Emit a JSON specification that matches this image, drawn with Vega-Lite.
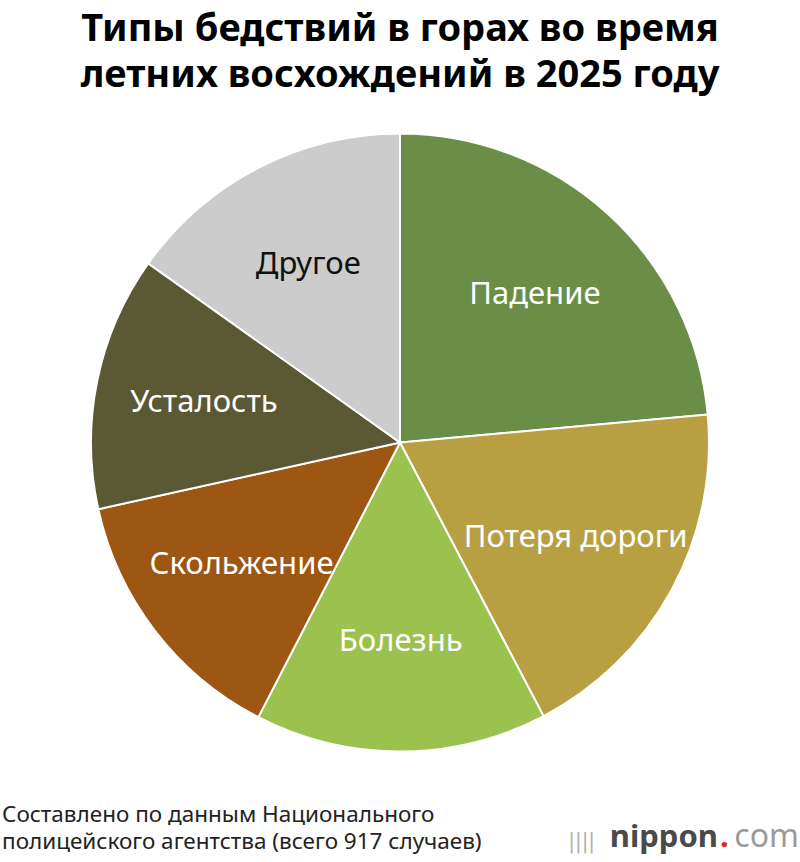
{
  "$schema": "https://vega.github.io/schema/vega-lite/v6.json",
  "width": 800,
  "height": 862,
  "autosize": {"type": "fit", "contains": "padding"},
  "padding": {"top": 11, "bottom": 0, "left": 0, "right": 0},
  "background": "white",
  "config": {"view": {"stroke": null}, "font": "Noto Sans"},
  "title": {
    "text": ["Типы бедствий в горах во время", "летних восхождений в 2025 году"],
    "fontSize": 38,
    "fontWeight": "bold",
    "font": "Noto Sans",
    "color": "#000000",
    "anchor": "middle",
    "lineHeight": 46,
    "offset": 5
  },
  "layer": [
    {
      "data": {"values": [
        {"type": "Падение", "count": 216, "idx": 1},
        {"type": "Потеря дороги", "count": 172, "idx": 2},
        {"type": "Болезнь", "count": 140, "idx": 3},
        {"type": "Скольжение", "count": 128, "idx": 4},
        {"type": "Усталость", "count": 122, "idx": 5},
        {"type": "Другое", "count": 139, "idx": 6}
      ]},
      "layer": [
        {
          "mark": {"type": "arc", "outerRadius": 309, "stroke": "white", "strokeWidth": 2, "y": {"expr": "height/2 - 38.5"}},
          "encoding": {
            "theta": {"field": "count", "type": "quantitative", "stack": true},
            "order": {"field": "idx", "type": "quantitative"},
            "color": {
              "field": "type", "type": "nominal", "legend": null,
              "scale": {
                "domain": ["Падение", "Потеря дороги", "Болезнь", "Скольжение", "Усталость", "Другое"],
                "range": ["#6a8d48", "#b89f42", "#9bc14e", "#9e5713", "#5b5834", "#cccccc"]
              }
            }
          }
        },
        {
          "mark": {"type": "text", "radius": 200, "fontSize": 31, "font": "Noto Sans", "y": {"expr": "height/2 - 38.5"}},
          "encoding": {
            "theta": {"field": "count", "type": "quantitative", "stack": true},
            "order": {"field": "idx", "type": "quantitative"},
            "text": {"field": "type", "type": "nominal"},
            "color": {
              "field": "type", "type": "nominal", "legend": null,
              "scale": {
                "domain": ["Падение", "Потеря дороги", "Болезнь", "Скольжение", "Усталость", "Другое"],
                "range": ["#ffffff", "#ffffff", "#ffffff", "#ffffff", "#ffffff", "#111111"]
              }
            }
          }
        }
      ],
      "resolve": {"scale": {"color": "independent"}}
    },
    {
      "data": {"values": [{"t": "Составлено по данным Национального"}]},
      "mark": {"type": "text", "align": "left", "baseline": "alphabetic", "fontSize": 22.5, "font": "Noto Sans", "color": "#222222", "x": 2, "y": {"expr": "height - 40"}},
      "encoding": {"text": {"field": "t"}}
    },
    {
      "data": {"values": [{"t": "полицейского агентства (всего 917 случаев)"}]},
      "mark": {"type": "text", "align": "left", "baseline": "alphabetic", "fontSize": 22.5, "font": "Noto Sans", "color": "#222222", "x": 2, "y": {"expr": "height - 13"}},
      "encoding": {"text": {"field": "t"}}
    },
    {
      "data": {"values": [{"t": "nippon"}]},
      "mark": {"type": "text", "align": "right", "baseline": "alphabetic", "fontSize": 31, "fontWeight": "bold", "font": "Noto Sans", "color": "#4a4a4a", "x": {"expr": "width - 82"}, "y": {"expr": "height - 15"}},
      "encoding": {"text": {"field": "t"}}
    },
    {
      "data": {"values": [{"t": "."}]},
      "mark": {"type": "text", "align": "left", "baseline": "alphabetic", "fontSize": 31, "fontWeight": "bold", "font": "Noto Sans", "color": "#e3242b", "x": {"expr": "width - 80"}, "y": {"expr": "height - 15"}},
      "encoding": {"text": {"field": "t"}}
    },
    {
      "data": {"values": [{"t": "com"}]},
      "mark": {"type": "text", "align": "right", "baseline": "alphabetic", "fontSize": 32, "font": "Noto Sans", "color": "#9a9a9a", "x": {"expr": "width - 1"}, "y": {"expr": "height - 15"}},
      "encoding": {"text": {"field": "t"}}
    },
    {
      "data": {"values": [{"t": "||||"}]},
      "mark": {"type": "text", "align": "right", "baseline": "alphabetic", "fontSize": 22, "font": "DejaVu Sans Condensed", "color": "#b0b0b0", "x": {"expr": "width - 205"}, "y": {"expr": "height - 14"}},
      "encoding": {"text": {"field": "t"}}
    }
  ]
}
